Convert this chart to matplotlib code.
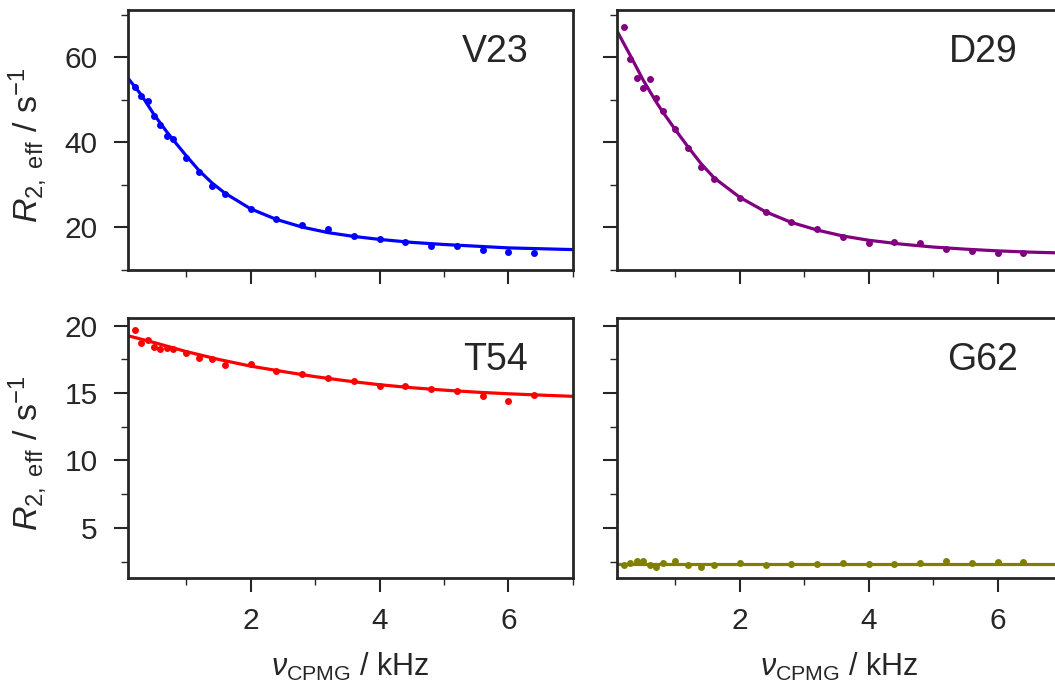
import matplotlib
matplotlib.use('Agg')
import matplotlib.pyplot as plt
from matplotlib.ticker import MultipleLocator

plt.rcParams['font.family'] = ['Liberation Sans', 'DejaVu Sans']
plt.rcParams['mathtext.fontset'] = 'custom'
plt.rcParams['mathtext.rm'] = 'Liberation Sans'
plt.rcParams['mathtext.it'] = 'Liberation Sans:italic'
plt.rcParams['mathtext.bf'] = 'Liberation Sans:bold'
plt.rcParams['mathtext.sf'] = 'Liberation Sans'

# ---- data (kHz, s^-1) ----
nu_cpmg = [0.2, 0.3, 0.4, 0.5, 0.6, 0.7, 0.8, 1.0, 1.2, 1.4, 1.6,
           2.0, 2.4, 2.8, 3.2, 3.6, 4.0, 4.4, 4.8, 5.2, 5.6, 6.0, 6.4]

r2_V23 = [53.0, 51.0, 49.8, 46.1, 44.1, 41.5, 40.7, 36.3, 32.9, 29.8, 27.8,
          24.2, 21.9, 20.4, 19.5, 17.9, 17.1, 16.6, 15.6, 15.6, 14.7, 14.2, 14.0]
r2_D29 = [67.2, 59.5, 55.1, 52.8, 54.8, 50.4, 47.4, 43.0, 38.7, 34.2, 31.4,
          26.9, 23.5, 21.3, 19.6, 17.7, 16.2, 16.4, 16.2, 14.8, 14.4, 14.0, 13.9]
r2_T54 = [19.68, 18.74, 18.96, 18.39, 18.27, 18.32, 18.25, 18.0, 17.6, 17.5, 17.08,
          17.16, 16.66, 16.39, 16.1, 15.87, 15.5, 15.55, 15.28, 15.13, 14.79, 14.44, 14.88]
r2_G62 = [2.26, 2.41, 2.53, 2.53, 2.21, 2.06, 2.38, 2.53, 2.23, 2.11, 2.23,
          2.41, 2.28, 2.33, 2.33, 2.38, 2.33, 2.33, 2.41, 2.53, 2.38, 2.46, 2.46]

# fitted curves
fit_x_V23 = [0.1, 0.3, 0.5, 0.7, 0.8, 1.0, 1.2, 1.4, 1.6, 2.0, 2.4, 2.8, 3.2,
             3.6, 4.0, 4.5, 5.0, 5.5, 6.0, 6.5, 7.0]
fit_y_V23 = [55.0, 51.2, 46.5, 42.4, 40.5, 36.8, 33.3, 30.4, 28.0, 24.3, 21.8, 20.0, 18.7,
             17.8, 17.1, 16.4, 15.9, 15.5, 15.1, 14.9, 14.7]
fit_x_D29 = [0.1, 0.3, 0.5, 0.7, 0.8, 1.0, 1.2, 1.4, 1.6, 2.0, 2.4, 2.8, 3.2,
             3.6, 4.0, 4.5, 5.0, 5.5, 6.0, 6.5, 7.0]
fit_y_D29 = [66.0, 60.4, 54.6, 49.5, 47.2, 42.9, 38.8, 34.9, 31.6, 27.0, 23.6, 21.1, 19.3,
             17.9, 16.9, 16.0, 15.3, 14.8, 14.4, 14.1, 13.9]
fit_x_T54 = [0.1, 0.5, 1.0, 1.5, 2.0, 2.5, 3.0, 3.5, 4.0, 4.5, 5.0, 5.5, 6.0, 6.5, 7.0]
fit_y_T54 = [19.25, 18.75, 18.08, 17.5, 17.0, 16.6, 16.22, 15.9, 15.62, 15.4, 15.22,
             15.07, 14.95, 14.85, 14.76]
fit_x_G62 = [0.1, 7.0]
fit_y_G62 = [2.33, 2.33]

residues = ['V23', 'D29', 'T54', 'G62']
colors = ['#0000ff', '#800080', '#ff0000', '#808000']

DARK = '#262626'

fig = plt.figure(figsize=(10.55, 6.82), dpi=100)
W = 0.4213
H = 0.3808
lefts = [0.1216, 0.5853]
bottoms = [0.6048, 0.1529]

panels = [
    (0, 0, nu_cpmg, r2_V23, fit_x_V23, fit_y_V23),
    (0, 1, nu_cpmg, r2_D29, fit_x_D29, fit_y_D29),
    (1, 0, nu_cpmg, r2_T54, fit_x_T54, fit_y_T54),
    (1, 1, nu_cpmg, r2_G62, fit_x_G62, fit_y_G62),
]

for i, (r, c, x, y, fx, fy) in enumerate(panels):
    ax = fig.add_axes([lefts[c], bottoms[r], W, H])
    ax.plot(x, y, 'o', color=colors[i], ms=5.0, mec='none', zorder=3)
    ax.plot(fx, fy, '-', color=colors[i], lw=2.3, zorder=2)
    ax.set_xlim(0.1, 7.0)
    ax.xaxis.set_major_locator(MultipleLocator(2))
    ax.xaxis.set_minor_locator(MultipleLocator(1))
    if r == 0:
        ax.set_ylim(10, 71.2)
        ax.yaxis.set_major_locator(MultipleLocator(20))
        ax.yaxis.set_minor_locator(MultipleLocator(10))
    else:
        ax.set_ylim(1.3, 20.57)
        ax.yaxis.set_major_locator(MultipleLocator(5))
        ax.yaxis.set_minor_locator(MultipleLocator(2.5))
    for sp in ax.spines.values():
        sp.set_linewidth(2.0)
        sp.set_color(DARK)
    ax.tick_params(which='major', direction='out', length=10, width=1.5,
                   color=DARK, labelcolor=DARK, labelsize=21.5)
    ax.tick_params(axis='x', which='major', pad=11)
    ax.tick_params(axis='y', which='major', pad=12)
    ax.tick_params(which='minor', direction='out', length=5, width=1.0, color=DARK)
    if r == 0:
        ax.tick_params(labelbottom=False)
    else:
        ax.set_xlabel(r'$\nu_{\mathrm{CPMG}}$ / kHz', fontsize=22, color=DARK)
        ax.xaxis.set_label_coords(0.5, -0.28)
    if c == 1:
        ax.tick_params(labelleft=False)
    else:
        ax.set_ylabel(r'$R_{\mathrm{2,\ eff}}$ / s$^{-1}$', fontsize=24.5, color=DARK)
        ax.yaxis.set_label_coords(-0.178, 0.48)
    ax.text(0.9, 0.80, residues[i], transform=ax.transAxes, ha='right',
            va='baseline', fontsize=27, color=DARK)

fig.savefig('out.png', dpi=100)
